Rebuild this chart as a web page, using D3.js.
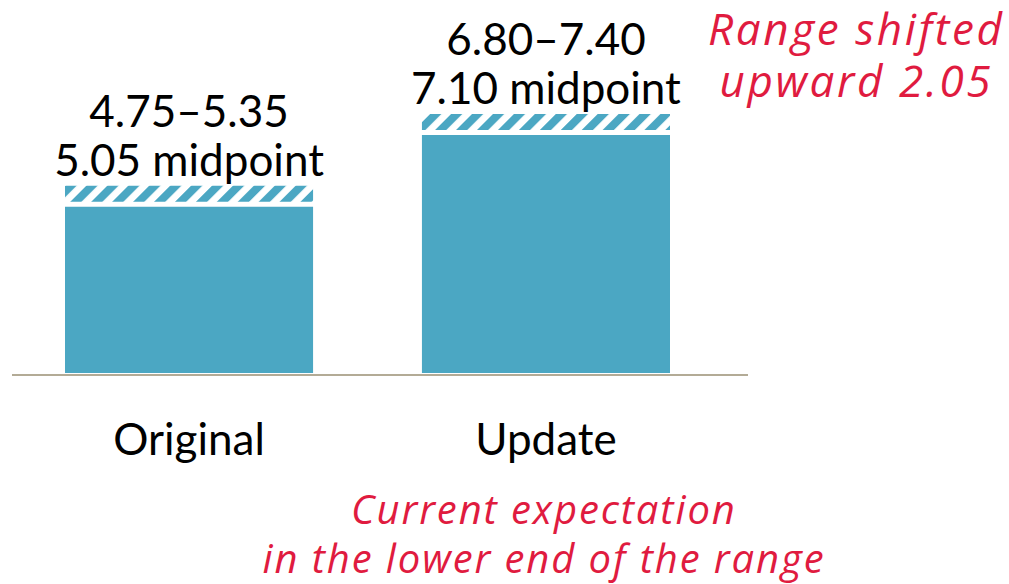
<!DOCTYPE html>
<html>
<head>
<meta charset="utf-8">
<script src="https://cdn.jsdelivr.net/npm/d3@7"></script>
<style>
  html, body { margin: 0; padding: 0; background: #ffffff; }
  svg { display: block; }
  text { font-family: "Lato", "Open Sans", sans-serif; }
  text.note { font-family: "Open Sans", "Noto Sans", sans-serif; font-style: italic; }
</style>
</head>
<body>
<svg id="chart" width="1009" height="584"></svg>
<script>
// Guidance ranges, original vs. updated
const categories = ["Original", "Update"];
const lowValues  = [4.75, 6.80];
const highValues = [5.35, 7.40];

// Red annotations
const noteTop    = ["Range shifted", "upward 2.05"];
const noteBottom = ["Current expectation", "in the lower end of the range"];

const barColor  = "#4ba7c3";
const noteColor = "#e01b3f";
const axisColor = "#b3ab96";

const svg = d3.select("#chart");
const baseY = 373;

const x = d3.scaleBand()
  .domain(categories)
  .range([10.5, 724.5])
  .paddingInner(0.305)
  .paddingOuter(0.1527);

const y = d3.scaleLinear()
  .domain([0, 10])
  .range([baseY, baseY - 350]);

// Diagonal stripe pattern for the upper part of each range
const defs = svg.append("defs");
const pat = defs.append("pattern")
  .attr("id", "stripes")
  .attr("patternUnits", "userSpaceOnUse")
  .attr("width", 14.8)
  .attr("height", 14.8)
  .attr("patternTransform", "rotate(45)");
pat.append("rect")
  .attr("x", 0).attr("y", 0)
  .attr("width", 8).attr("height", 14.8)
  .attr("fill", barColor);

const data = categories.map((c, i) => ({
  cat: c, lo: lowValues[i], hi: highValues[i], mid: (lowValues[i] + highValues[i]) / 2
}));

const g = svg.append("g");

// Solid bar up to the low end of the range
g.selectAll("rect.bar")
  .data(data)
  .join("rect")
  .attr("class", "bar")
  .attr("x", d => x(d.cat))
  .attr("width", x.bandwidth())
  .attr("y", d => y(d.lo))
  .attr("height", d => y(0) - y(d.lo))
  .attr("fill", barColor);

// Hatched band covering the range above the low end
const gap = 5;
g.selectAll("rect.range")
  .data(data)
  .join("rect")
  .attr("class", "range")
  .attr("x", d => x(d.cat))
  .attr("width", x.bandwidth())
  .attr("y", d => y(d.hi))
  .attr("height", d => y(d.lo) - y(d.hi) - gap)
  .attr("fill", "url(#stripes)");

// Baseline
svg.append("line")
  .attr("x1", 12).attr("x2", 748)
  .attr("y1", baseY + 2).attr("y2", baseY + 2)
  .attr("stroke", axisColor)
  .attr("stroke-width", 2);

// Range labels above each bar
const labels = g.selectAll("g.lbl")
  .data(data)
  .join("g")
  .attr("class", "lbl")
  .attr("transform", d => `translate(${x(d.cat) + x.bandwidth() / 2},${y(d.hi) - 10})`);
labels.append("text")
  .attr("text-anchor", "middle")
  .attr("y", -49)
  .attr("font-size", 44)
  .attr("fill", "#000")
  .text(d => `${d.lo.toFixed(2)}–${d.hi.toFixed(2)}`);
labels.append("text")
  .attr("text-anchor", "middle")
  .attr("y", 0)
  .attr("font-size", 44)
  .attr("fill", "#000")
  .text(d => `${d.mid.toFixed(2)} midpoint`);

// Category axis labels
g.selectAll("text.cat")
  .data(categories)
  .join("text")
  .attr("class", "cat")
  .attr("text-anchor", "middle")
  .attr("x", d => x(d) + x.bandwidth() / 2)
  .attr("y", 455)
  .attr("font-size", 44)
  .attr("fill", "#000")
  .text(d => d);

// Annotations (letter-spacing widens the italic face; shift by half to stay centred)
const topSpacing = 2.6;
svg.append("g")
  .selectAll("text")
  .data(noteTop)
  .join("text")
  .attr("class", "note")
  .attr("x", 855 + topSpacing / 2)
  .attr("y", (d, i) => 45 + i * 52)
  .attr("text-anchor", "middle")
  .attr("font-size", 44)
  .attr("letter-spacing", topSpacing)
  .attr("fill", noteColor)
  .text(d => d);

const bottomSpacing = 1.9;
svg.append("g")
  .selectAll("text")
  .data(noteBottom)
  .join("text")
  .attr("class", "note")
  .attr("x", 543 + bottomSpacing / 2)
  .attr("y", (d, i) => 524 + i * 49)
  .attr("text-anchor", "middle")
  .attr("font-size", 40)
  .attr("letter-spacing", bottomSpacing)
  .attr("fill", noteColor)
  .text(d => d);
</script>
</body>
</html>
